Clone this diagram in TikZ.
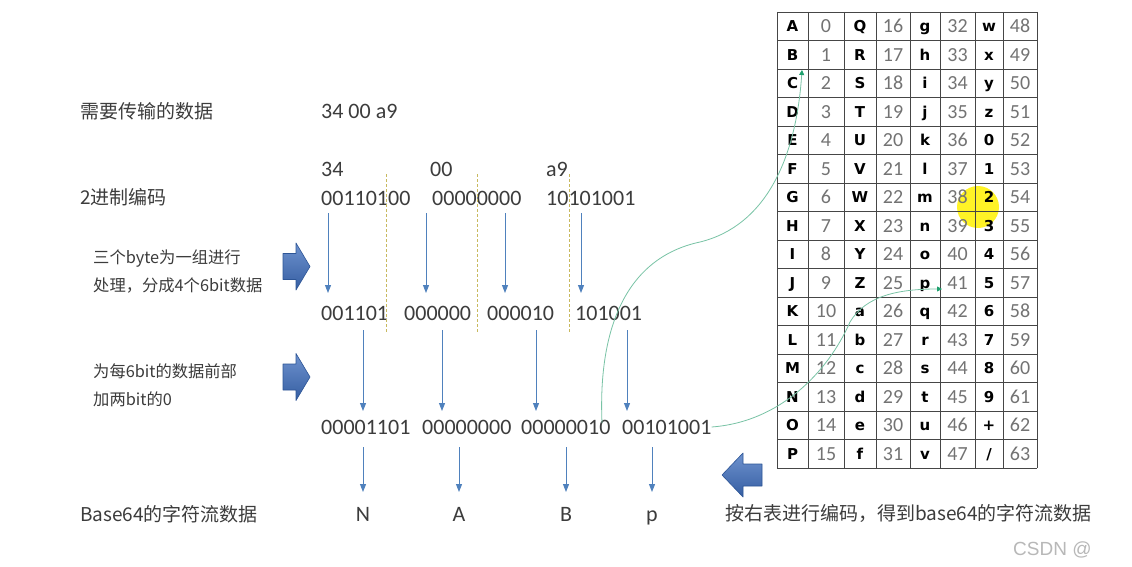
\documentclass[tikz,border=0pt]{standalone}
\usepackage{fontspec}
\setmainfont{Carlito}
\newfontfamily\cjk{Noto Sans CJK SC}
\newfontfamily\letfont{DejaVu Sans}
\newfontfamily\markfont{Liberation Sans}
\usetikzlibrary{arrows.meta}
\definecolor{arrowblue}{RGB}{79,129,189}
\definecolor{blockblue}{RGB}{62,110,190}
\definecolor{blockedge}{RGB}{45,85,150}
\definecolor{cutline}{RGB}{200,185,95}
\definecolor{tracegreen}{RGB}{120,195,165}
\definecolor{tipgreen}{RGB}{30,160,110}
\definecolor{numgray}{RGB}{115,115,115}
\definecolor{gridgray}{RGB}{70,70,70}
\definecolor{textgray}{RGB}{60,60,60}

\begin{document}
\begin{tikzpicture}[x=1pt, y=-1pt,
    label/.style={anchor=base west, inner sep=0pt, font=\cjk\fontsize{19}{21}\selectfont, text=textgray},
    note/.style={label, font=\cjk\fontsize{16.3}{18}\selectfont},
    bits/.style={anchor=base west, inner sep=0pt, text height=14pt, text depth=0pt, font=\fontsize{22}{24}\selectfont, text=textgray},
    char/.style={anchor=base, inner sep=0pt, font=\fontsize{22}{24}\selectfont, text=textgray},
    arrow/.style={-{Triangle[width=6pt,length=8pt]}, arrowblue, line width=1pt},
    cut/.style={cutline, line width=1pt, dash pattern=on 2.5pt off 2.5pt},
    blockarrow/.style={draw=blockedge, top color=blockblue!75!white, bottom color=blockblue!85!black, line width=0.6pt, line join=round},
    trace/.style={tracegreen, line width=0.8pt, -{Triangle[width=5pt,length=5pt,color=tipgreen]}},
    letter/.style={inner sep=0pt, text height=11pt, text depth=0pt, font=\letfont\bfseries\fontsize{15}{17}\selectfont},
    number/.style={inner sep=0pt, text height=12.6pt, text depth=0pt, font=\fontsize{20}{22}\selectfont, text=numgray}]

    \useasboundingbox[fill=white] (0,0) rectangle (1132,567);

    % lookup table
    \fill[yellow, opacity=0.85] (978,207) circle[radius=21pt];
    \foreach \cx in {777,808,844,876,910,940,975,1003,1037}
        \draw[gridgray, line width=0.8pt] (\cx,12) -- (\cx,468);
    \foreach \r in {0,...,16}
        \draw[gridgray, line width=0.8pt] (777,{12+\r*28.5}) -- (1037,{12+\r*28.5});
    \foreach \l [count=\i from 0] in {A,B,C,D,E,F,G,H,I,J,K,L,M,N,O,P,
            Q,R,S,T,U,V,W,X,Y,Z,a,b,c,d,e,f,
            g,h,i,j,k,l,m,n,o,p,q,r,s,t,u,v,
            w,x,y,z,0,1,2,3,4,5,6,7,8,9,+,/} {
        \pgfmathtruncatemacro\c{\i/16}
        \pgfmathtruncatemacro\r{mod(\i,16)}
        \pgfmathsetmacro\lx{{792.5,860,925,989}[\c]}
        \pgfmathsetmacro\nx{{826,893,957.5,1020}[\c]}
        \node[letter] (l\i) at (\lx,{26.25+\r*28.5}) {\l};
        \node[number] (n\i) at (\nx,{26.25+\r*28.5}) {\i};
    }

    % labels on the left
    \node[label] (need) at (80,119) {需要传输的数据};
    \node[label] (bin) at (80,204) {2进制编码};
    \node[note] (grp1) at (93,263) {三个byte为一组进行};
    \node[note] (grp2) at (93,291) {处理，分成4个6bit数据};
    \node[note] (pad1) at (93,377) {为每6bit的数据前部};
    \node[note] (pad2) at (93,405) {加两bit的0};
    \node[label] (out) at (80,521) {Base64的字符流数据};
    \node[label] (enc) at (725,520) {按右表进行编码，得到base64的字符流数据};

    % data rows
    \node[bits] (raw) at (321,119) {34 00 a9};
    \node[bits] (h1) at (321,176) {34};
    \node[bits] (h2) at (430,176) {00};
    \node[bits] (h3) at (546,176) {a9};
    \node[bits] (b1) at (321,205) {00110100};
    \node[bits] (b2) at (432,205) {00000000};
    \node[bits] (b3) at (546,205) {10101001};
    \node[bits] (s1) at (321,320) {001101};
    \node[bits] (s2) at (404,320) {000000};
    \node[bits] (s3) at (487,320) {000010};
    \node[bits] (s4) at (575,320) {101001};
    \node[bits] (e1) at (321,434) {00001101};
    \node[bits] (e2) at (422,434) {00000000};
    \node[bits] (e3) at (521,434) {00000010};
    \node[bits] (e4) at (622,434) {00101001};
    \node[char] (o1) at (363,521) {N};
    \node[char] (o2) at (459,521) {A};
    \node[char] (o3) at (566,521) {B};
    \node[char] (o4) at (652,521) {p};

    % cut lines between the 6bit groups
    \foreach \cx [count=\k] in {386.5,477.5,569.5} {
        \coordinate (ct\k) at (\cx,174);
        \coordinate (cb\k) at (\cx,332);
        \draw[cut] (ct\k) -- (cb\k);
    }

    % down arrows
    \foreach \ax/\ys/\ye [count=\k] in {328/213/293, 426/213/293, 505/213/293, 581/213/293,
            363/330/411, 442/330/411, 536/330/411, 627/330/411,
            363/447/492, 459/447/492, 566/447/492, 652/447/492} {
        \coordinate (as\k) at (\ax,\ys);
        \coordinate (ae\k) at (\ax,\ye);
        \draw[arrow] (as\k) -- (ae\k);
    }

    % block arrows
    \foreach \by in {266.5,377} 
        \draw[blockarrow, shift={(283,\by)}] (0,-13) -- (13,-13) -- (13,-23.5) -- (27,0)
            -- (13,23.5) -- (13,13) -- (0,13) -- cycle;
    \draw[blockarrow, shift={(762,475)}] (0,-11) -- (-19,-11) -- (-19,-22) -- (-40,0)
        -- (-19,22) -- (-19,11) -- (0,11) -- cycle;

    % traces to the table
    \coordinate (t1s) at (602,423);
    \coordinate (t1e) at (802,70);
    \coordinate (t2e) at (942,289);
    \draw[trace] (t1s) .. controls (598,330) and (625,258) .. (700,242)
        .. controls (765,226) and (796,160) .. (t1e);
    \draw[trace] (e4.east) .. controls (780,422) and (828,372) .. (850,322)
        .. controls (866,295) and (900,289) .. (t2e);

    \node[anchor=base west, inner sep=0pt, font=\markfont\fontsize{19}{21}\selectfont, text=black!28] (mark) at (1013,555) {CSDN @};
\end{tikzpicture}
\end{document}
